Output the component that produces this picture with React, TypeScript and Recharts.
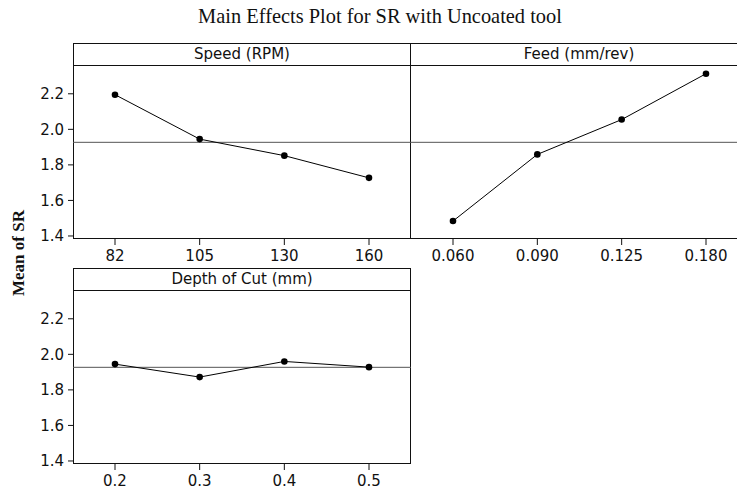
import { LineChart, Line, XAxis, YAxis, ReferenceLine } from 'recharts';

const speedLevels = ['82', '105', '130', '160'];
const speedMeans = [2.195, 1.945, 1.852, 1.727];
const feedLevels = ['0.060', '0.090', '0.125', '0.180'];
const feedMeans = [1.484, 1.859, 2.055, 2.313];
const depthLevels = ['0.2', '0.3', '0.4', '0.5'];
const depthMeans = [1.945, 1.872, 1.96, 1.928];
const grandMean = 1.927;
const yTicks = [1.4, 1.6, 1.8, 2.0, 2.2];
const yDomain: [number, number] = [1.383, 2.362];

const STRIP = 22;
const PLOT_H = 174;
const Y_W = 73;
const AXIS_H = 30;
const BORDER = '1.5px solid #111';
const tickStyle = { fontSize: 15, fill: '#111', fontFamily: '"DejaVu Sans", Verdana, sans-serif' };

interface PanelProps {
  title: string;
  levels: string[];
  means: number[];
  left: number;
  top: number;
  width: number;
  showY?: boolean;
  noLeftBorder?: boolean;
}

function Panel({ title, levels, means, left, top, width, showY, noLeftBorder }: PanelProps) {
  const data = levels.map((level, i) => ({ level, mean: means[i] }));
  const yw = showY ? Y_W : 0;
  return (
    <>
      {/* frame + strip */}
      <div
        style={{
          position: 'absolute', left, top, width, height: STRIP + PLOT_H, boxSizing: 'border-box',
          border: BORDER, borderLeft: noLeftBorder ? 'none' : BORDER,
        }}
      >
        <div
          style={{
            height: STRIP, boxSizing: 'border-box', borderBottom: BORDER,
            textAlign: 'center', fontSize: 15, lineHeight: '20px', color: '#111',
            fontFamily: '"DejaVu Sans", Verdana, sans-serif',
          }}
        >
          {title}
        </div>
      </div>
      <div style={{ position: 'absolute', left: left - yw, top: top + STRIP - 5 }}>
        <LineChart width={yw + width} height={5 + PLOT_H + AXIS_H} data={data} margin={{ top: 5, right: 0, bottom: 0, left: 0 }}>
          <XAxis
            dataKey="level" type="category" height={AXIS_H} padding={{ left: 42, right: 42 }}
            axisLine={false} tickLine={{ stroke: '#111' }} tickSize={6} tickMargin={5} tick={tickStyle} interval={0}
          />
          <YAxis
            type="number" domain={yDomain} ticks={yTicks} width={Y_W} hide={!showY} allowDataOverflow
            axisLine={false} tickLine={{ stroke: '#111' }} tickSize={5} tickMargin={4} tick={tickStyle}
            tickFormatter={(v: number) => v.toFixed(1)}
          />
          <ReferenceLine y={grandMean} stroke="#555" strokeWidth={1} />
          <Line
            dataKey="mean" stroke="#000" strokeWidth={1} isAnimationActive={false}
            dot={{ r: 3.3, fill: '#000', stroke: '#000', strokeWidth: 0 }} activeDot={false}
          />
        </LineChart>
      </div>
    </>
  );
}

export default function App() {
  return (
    <div style={{ position: 'absolute', left: 0, top: 0, width: 737, height: 492, overflow: 'hidden', background: '#fff' }}>
      <div
        style={{
          position: 'absolute', left: 180, top: 6, width: 400, textAlign: 'center',
          fontFamily: '"Liberation Serif", "Times New Roman", serif', fontSize: 20.4, lineHeight: '20px', color: '#111',
        }}
      >
        Main Effects Plot for SR with Uncoated tool
      </div>
      <div
        style={{
          position: 'absolute', left: 19 - 100, top: 253 - 10, width: 200, height: 20, lineHeight: '20px',
          textAlign: 'center', transform: 'rotate(-90deg)', fontWeight: 'bold', fontSize: 17,
          fontFamily: '"Liberation Serif", "Times New Roman", serif', color: '#111',
        }}
      >
        Mean of SR
      </div>
      <Panel title="Speed (RPM)" levels={speedLevels} means={speedMeans} left={73} top={43} width={338} showY />
      <Panel title="Feed (mm/rev)" levels={feedLevels} means={feedMeans} left={411} top={43} width={337} noLeftBorder />
      <Panel title="Depth of Cut (mm)" levels={depthLevels} means={depthMeans} left={73} top={268} width={338} showY />
    </div>
  );
}
